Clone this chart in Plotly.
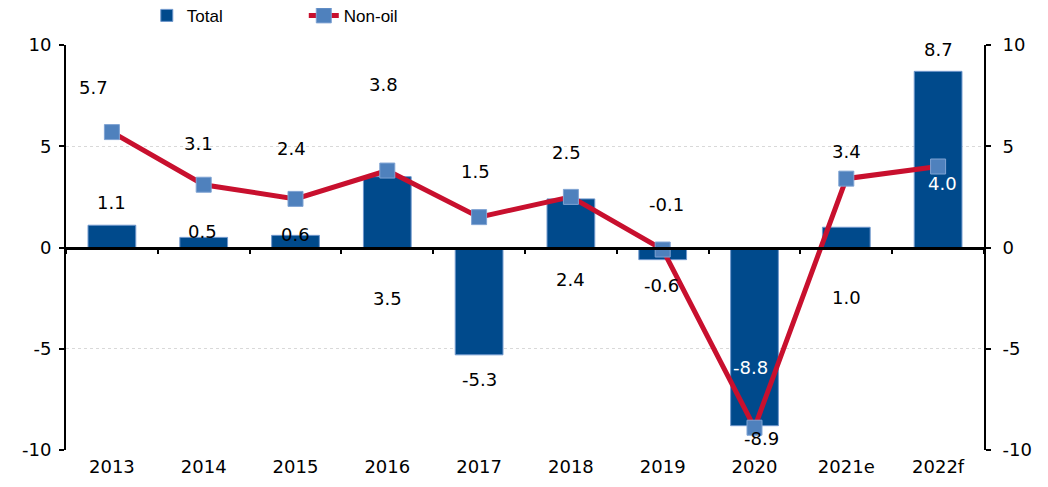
import plotly.graph_objects as go

categories = ["2013", "2014", "2015", "2016", "2017", "2018", "2019", "2020", "2021e", "2022f"]
total = [1.1, 0.5, 0.6, 3.5, -5.3, 2.4, -0.6, -8.8, 1.0, 8.7]
non_oil = [5.7, 3.1, 2.4, 3.8, 1.5, 2.5, -0.1, -8.9, 3.4, 4.0]
y_ticks = [-10, -5, 0, 5, 10]

# label placement offsets in pixels (dx, dy; dy positive = down)
total_label_off = [(0, -23), (-1, -6), (0, -1), (0, 122), (0, 25), (0, 81), (-1, 26), (-4, -58), (0, 70), (0, -22)]
total_label_col = ["#000000"] * 7 + ["#FFFFFF"] + ["#000000"] * 2
nonoil_label_off = [(-18, -45), (-5, -41), (-4, -50), (-4, -86), (-4, -46), (-4, -44), (4, -45), (7, 11), (0, -27), (4, 17)]
nonoil_label_col = ["#000000"] * 9 + ["#FFFFFF"]

BAR = "#004A8C"
LINE = "#C8102E"
MARK = "#4F81BD"
FONT = "DejaVu Sans"

fig = go.Figure()
fig.add_trace(go.Bar(
    x=categories, y=total, name="Total",
    marker=dict(color=BAR, line=dict(color="#6F97CC", width=1)),
    hoverinfo="skip",
))
fig.add_trace(go.Scatter(
    x=categories, y=non_oil, name="Non-oil", yaxis="y2",
    mode="lines+markers",
    line=dict(color=LINE, width=5),
    marker=dict(symbol="square", size=15, color=MARK, line=dict(color="#7FA3D3", width=1)),
    hoverinfo="skip",
))
# invisible helper trace to draw the category boundary axis at zero
fig.add_trace(go.Scatter(
    x=categories, y=total, xaxis="x2", mode="lines", line=dict(width=0),
    opacity=0, showlegend=False, hoverinfo="skip",
))

ann = []
for i, (v, (dx, dy), col) in enumerate(zip(total, total_label_off, total_label_col)):
    ann.append(dict(x=i, y=v, xref="x", yref="y", text=f"{v:.1f}", showarrow=False,
                    xshift=dx, yshift=-dy, font=dict(family=FONT, size=18, color=col)))
for i, (v, (dx, dy), col) in enumerate(zip(non_oil, nonoil_label_off, nonoil_label_col)):
    ann.append(dict(x=i, y=v, xref="x", yref="y", text=f"{v:.1f}", showarrow=False,
                    xshift=dx, yshift=-dy, font=dict(family=FONT, size=18, color=col)))

yax_common = dict(
    range=[-10, 10], tickvals=y_ticks, ticktext=[str(t) for t in y_ticks],
    showline=True, linecolor="#000000", linewidth=2,
    ticks="outside", ticklen=5, tickwidth=2, tickcolor="#000000",
    zeroline=False, fixedrange=True,
    tickfont=dict(family=FONT, size=18, color="#000000"),
)

fig.update_layout(
    width=1040, height=479,
    margin=dict(l=58, r=64, t=37, b=37, autoexpand=False),
    paper_bgcolor="#FFFFFF", plot_bgcolor="#FFFFFF",
    bargap=0.48,
    showlegend=True,
    legend=dict(orientation="h", x=0.088, xanchor="left", y=1.072, yanchor="middle",
                font=dict(family="Liberation Sans", size=17, color="#000000"),
                entrywidth=112, entrywidthmode="pixels", bgcolor="rgba(0,0,0,0)",
                traceorder="normal", itemclick=False, itemdoubleclick=False),
    xaxis=dict(type="category", range=[-0.5, 9.5], showline=False, ticks="", showgrid=False,
               zeroline=False, tickfont=dict(family=FONT, size=18, color="#000000"),
               ticklabelstandoff=4),
    xaxis2=dict(type="category", range=[-0.5, 9.5], overlaying="x", anchor="free", position=0.5,
                showline=True, linecolor="#000000", linewidth=2.5,
                ticks="outside", tickson="boundaries", ticklen=5, tickwidth=2, tickcolor="#000000",
                showticklabels=False, showgrid=False, zeroline=False),
    yaxis=dict(**yax_common, side="left", showgrid=True, gridcolor="#D9D9D9", gridwidth=1,
               griddash="dot", ticklabelstandoff=4),
    yaxis2=dict(**yax_common, side="right", overlaying="y", anchor="x", showgrid=False,
                ticklabelstandoff=8),
    annotations=ann,
)

fig.write_html("out.html")
